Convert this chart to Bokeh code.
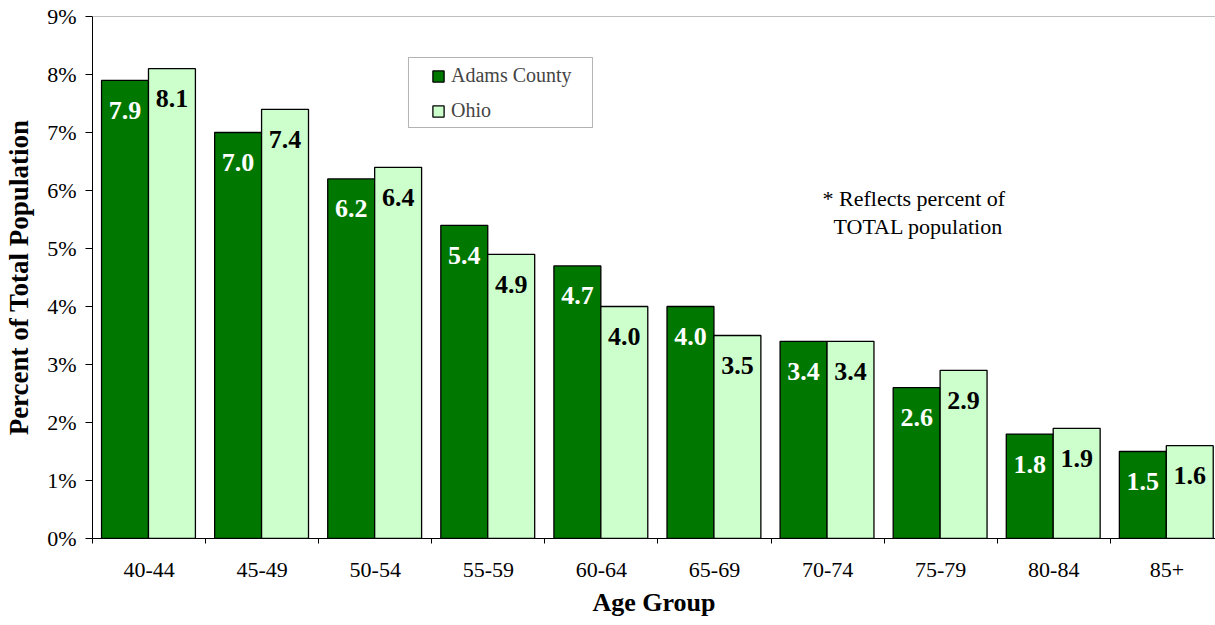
import numpy as np
from bokeh.plotting import figure
from bokeh.models import (Range1d, FixedTicker, PrintfTickFormatter, Span, Legend,
                          LegendItem, BoxAnnotation, Label, ColumnDataSource)
from bokeh.core.properties import value
from bokeh.embed import file_html
from bokeh.resources import INLINE

ages = ["40-44", "45-49", "50-54", "55-59", "60-64", "65-69", "70-74", "75-79", "80-84", "85+"]
adams = [7.9, 7.0, 6.2, 5.4, 4.7, 4.0, 3.4, 2.6, 1.8, 1.5]
ohio = [8.1, 7.4, 6.4, 4.9, 4.0, 3.5, 3.4, 2.9, 1.9, 1.6]
y_ticks = list(range(0, 10))

FONT = "Liberation Serif"
DARK = "#007800"
LIGHT = "#CCFFCC"

idx = np.arange(len(ages))
src = ColumnDataSource(dict(
    xa=idx + 0.2875, xo=idx + 0.7025,
    adams=adams, ohio=ohio,
    la=[f"{v:.1f}" for v in adams], lo=[f"{v:.1f}" for v in ohio],
))

p = figure(width=1215, height=625, output_backend="svg", toolbar_location=None,
           x_range=Range1d(0, 9.93), y_range=Range1d(0, 9),
           min_border_left=92, min_border_right=0, min_border_top=16, min_border_bottom=87)
p.outline_line_color = None
p.background_fill_color = "white"
p.border_fill_color = "white"
p.xgrid.visible = False
p.ygrid.visible = False

ra = p.vbar(x="xa", top="adams", width=0.415, source=src, fill_color=DARK,
            line_color="black", line_width=1.3)
ro = p.vbar(x="xo", top="ohio", width=0.415, source=src, fill_color=LIGHT,
            line_color="black", line_width=1.3)

p.text(x="xa", y="adams", text="la", source=src, text_color="white",
       text_font=value(FONT), text_font_style="bold", text_font_size="26px",
       text_align="center", text_baseline="middle", y_offset=30)
p.text(x="xo", y="ohio", text="lo", source=src, text_color="black",
       text_font=value(FONT), text_font_style="bold", text_font_size="26px",
       text_align="center", text_baseline="middle", y_offset=30)

p.add_layout(Span(location=9, dimension="width", line_color="#808080", line_width=1))

# y axis
p.yaxis.ticker = FixedTicker(ticks=y_ticks)
p.yaxis.formatter = PrintfTickFormatter(format="%d%%")
p.yaxis.major_tick_out = 7
p.yaxis.major_tick_in = 0
p.yaxis.minor_tick_line_color = None
p.yaxis.axis_line_color = "black"
p.yaxis.major_label_text_font = FONT
p.yaxis.major_label_text_font_size = "22px"
p.yaxis.major_label_text_color = "black"
p.yaxis.major_label_standoff = 9
p.yaxis.axis_label = "Percent of Total Population"
p.yaxis.axis_label_text_font = FONT
p.yaxis.axis_label_text_font_style = "bold"
p.yaxis.axis_label_text_font_size = "27px"
p.yaxis.axis_label_text_color = "black"
p.yaxis.axis_label_standoff = 10

# x axis
p.xaxis.ticker = FixedTicker(ticks=list(idx + 0.5), minor_ticks=list(range(0, len(ages) + 1)))
p.xaxis.major_label_overrides = {float(i + 0.5): a for i, a in enumerate(ages)}
p.xaxis.major_tick_line_color = None
p.xaxis.minor_tick_out = 5
p.xaxis.minor_tick_in = 0
p.xaxis.minor_tick_line_color = "black"
p.xaxis.axis_line_color = "black"
p.xaxis.major_label_text_font = FONT
p.xaxis.major_label_text_font_size = "22px"
p.xaxis.major_label_text_color = "black"
p.xaxis.major_label_standoff = 18
p.xaxis.axis_label = "Age Group"
p.xaxis.axis_label_text_font = FONT
p.xaxis.axis_label_text_font_style = "bold"
p.xaxis.axis_label_text_font_size = "26px"
p.xaxis.axis_label_text_color = "black"
p.xaxis.axis_label_standoff = 8

# legend frame
p.add_layout(BoxAnnotation(left=2.794, right=4.421, bottom=7.086, top=8.293,
                           fill_color="white", fill_alpha=1, line_color="black",
                           line_width=1, level="annotation"))
legend = Legend(items=[LegendItem(label="Adams County", renderers=[ra]),
                       LegendItem(label="Ohio", renderers=[ro])],
                location=(339, 416), orientation="vertical",
                glyph_width=14, glyph_height=14, label_height=20, spacing=12,
                padding=8, margin=0, label_standoff=6,
                label_text_font=FONT, label_text_font_size="20px",
                border_line_color=None, background_fill_alpha=0)
p.add_layout(legend, "center")

p.add_layout(Label(x=6.455, y=5.862, text="* Reflects percent of", text_font=FONT,
                   text_font_size="22px", text_baseline="middle", text_color="black"))
p.add_layout(Label(x=6.552, y=5.379, text="TOTAL population", text_font=FONT,
                   text_font_size="22px", text_baseline="middle", text_color="black"))

open("out.html", "w").write(file_html(p, INLINE))
